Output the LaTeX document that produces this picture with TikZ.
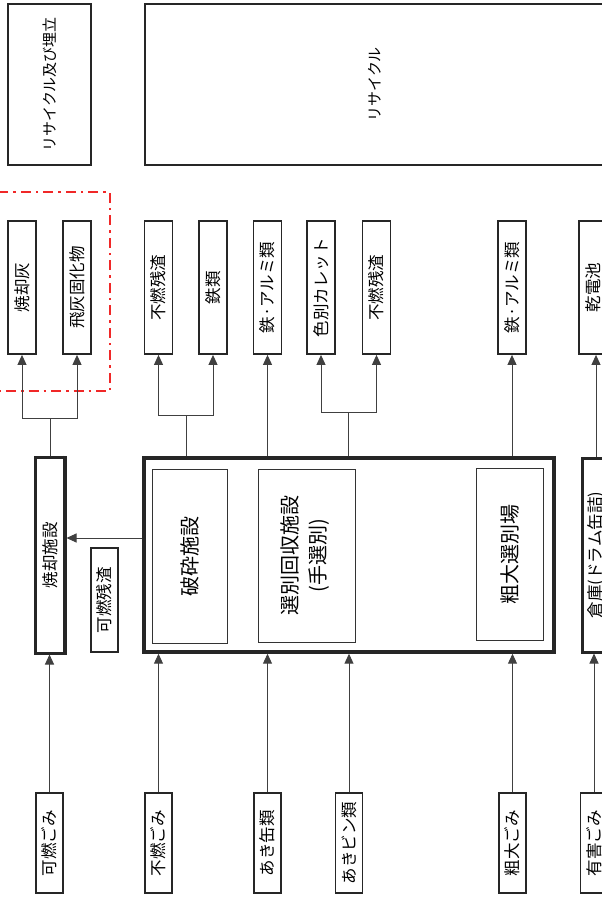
\documentclass[tikz,border=0pt]{standalone}
\usepackage{fontspec}
\setmainfont{Noto Sans CJK JP}
\usetikzlibrary{arrows.meta, calc}
\newcommand{\vlabel}[1]{\rotatebox{90}{#1}}

\begin{document}
\begin{tikzpicture}[
  x=1pt, y=-1pt,
  every node/.style={font=\fontsize{16.5}{19}\selectfont, inner sep=0pt},
  item/.style={rectangle, draw=black!85, line width=1.8pt, align=center},
  product/.style={item, minimum width=28pt, minimum height=133pt},
  source/.style={item, minimum width=27pt, minimum height=100pt},
  plant/.style={rectangle, draw=black!85, line width=3.4pt},
  unit/.style={rectangle, draw=black!80, line width=0.9pt,
    font=\fontsize{20}{24}\selectfont},
  flow/.style={draw=black!75, line width=1pt},
  groupline/.style={draw={rgb,255:red,240;green,40;blue,40}, line width=2.2pt,
    dash pattern=on 10pt off 5pt on 2.5pt off 5pt},
  >={Triangle[length=10pt, width=9pt]}
]
\clip (0,0) rectangle (602,899);

% ---- Top row: destinations ----
\node[item, minimum width=83pt, minimum height=161pt, font=\fontsize{15}{18}\selectfont]
  (landfill) at (49.5,84.5) {\vlabel{リサイクル及び埋立}};
\node[item, minimum width=460pt, minimum height=161pt, font=\fontsize{15}{18}\selectfont]
  (recycle) at (375,84.5) {\vlabel{リサイクル}};

% ---- Products ----
\node[product] (ash)      at (22,287.5)  {\vlabel{焼却灰}};
\node[product] (flyash)   at (77,287.5)  {\vlabel{飛灰固化物}};
\node[product] (residueA) at (158.5,287.5) {\vlabel{不燃残渣}};
\node[product] (iron)     at (213,287.5) {\vlabel{鉄類}};
\node[product] (metalA)   at (267.5,287.5) {\vlabel{鉄·アルミ類}};
\node[product] (cullet)   at (321,287.5) {\vlabel{色別カレット}};
\node[product] (residueB) at (376.5,287.5) {\vlabel{不燃残渣}};
\node[product] (metalB)   at (512,287.5) {\vlabel{鉄·アルミ類}};
\node[product] (battery)  at (593,287.5) {\vlabel{乾電池}};

% ---- Landfill group (red) ----
\draw[groupline] (-20,192) rectangle (110,391);

% ---- Facilities ----
\node[plant, line width=3pt, minimum width=30pt, minimum height=196pt]
  (incin) at (50,555) {\vlabel{焼却施設}};
\draw[black!85, line width=0.8pt]
  ([xshift=-3.5pt]incin.north east) -- ([xshift=-3.5pt]incin.south east);
\node[item, minimum width=27pt, minimum height=104pt]
  (combres) at (104.5,600) {\vlabel{可燃残渣}};
\node[plant, minimum width=410pt, minimum height=194pt]
  (main) at (349,555) {};
\node[unit, minimum width=75pt, minimum height=174pt]
  (crush) at (189.5,556) {\vlabel{破砕施設}};
\node[unit, minimum width=97pt, minimum height=173pt]
  (sort) at (306.5,555.5)
  {\vlabel{\begin{tabular}{@{}c@{}}選別回収施設\\[4pt](手選別)\end{tabular}}};
\node[unit, minimum width=67pt, minimum height=172pt]
  (bulkysort) at (509.5,554) {\vlabel{粗大選別場}};
\node[plant, line width=3pt, minimum width=28pt, minimum height=194pt]
  (store) at (596,555) {\vlabel{倉庫(ドラム缶詰)}};

% ---- Sources (bottom) ----
\node[source] (burnable) at (49.5,843)  {\vlabel{可燃ごみ}};
\node[source] (unburn)   at (158.5,843) {\vlabel{不燃ごみ}};
\node[source] (cans)     at (267.5,843) {\vlabel{あき缶類}};
\node[source] (bottles)  at (349,843)   {\vlabel{あきビン類}};
\node[source] (bulky)    at (512.5,843) {\vlabel{粗大ごみ}};
\node[source] (hazard)   at (594,843)   {\vlabel{有害ごみ}};

% ---- Arrows: sources up to facilities ----
\draw[flow, ->] (burnable.north) -- (burnable.north |- incin.south);
\draw[flow, ->] (unburn.north) -- (unburn.north |- main.south);
\draw[flow, ->] (cans.north) -- (cans.north |- main.south);
\draw[flow, ->] (bottles.north) -- (bottles.north |- main.south);
\draw[flow, ->] (bulky.north) -- (bulky.north |- main.south);
\draw[flow, ->] (hazard.north) -- (hazard.north |- store.south);

% ---- Arrow: combustible residue to incinerator ----
\draw[flow, ->] ([yshift=17pt]main.west) -- ([yshift=17pt]incin.east);

% ---- Arrows: facilities up to products ----
\coordinate (ashfork) at (50,418);
\draw[flow] (incin.north) -- (ashfork);
\draw[flow, ->] (ashfork) -| (ash.south);
\draw[flow, ->] (ashfork) -| (flyash.south);

\coordinate (crushfork) at (186,415);
\draw[flow] (crushfork |- main.north) -- (crushfork);
\draw[flow, ->] (crushfork) -| (residueA.south);
\draw[flow, ->] (crushfork) -| (iron.south);

\draw[flow, ->] (metalA.south |- main.north) -- (metalA.south);

\coordinate (glassfork) at (348,412);
\draw[flow] (glassfork |- main.north) -- (glassfork);
\draw[flow, ->] (glassfork) -| (cullet.south);
\draw[flow, ->] (glassfork) -| (residueB.south);

\draw[flow, ->] (metalB.south |- main.north) -- (metalB.south);
\draw[flow, ->] (store.north) -- (store.north |- battery.south);

\end{tikzpicture}
\end{document}
